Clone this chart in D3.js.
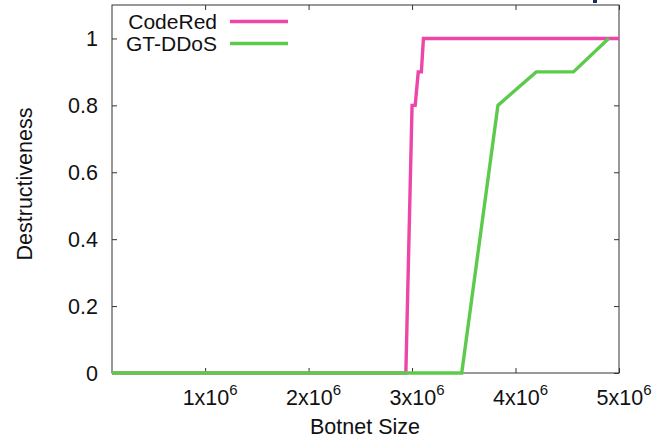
<!DOCTYPE html>
<html>
<head>
<meta charset="utf-8">
<script src="https://cdn.jsdelivr.net/npm/d3@7"></script>
<style>
  body { margin: 0; background: #fff; }
  svg { display: block; }
  text { font-family: "Liberation Sans", Arial, Helvetica, sans-serif; fill: #111; }
</style>
</head>
<body>
<svg id="chart"></svg>
<script>
// botnet sizes and destructiveness
var codeRedSize = [1e5, 2.94e6, 3.0e6, 3.03e6, 3.06e6, 3.09e6, 3.11e6, 5e6]
var codeRedVal = [0, 0, 0.8, 0.8, 0.9, 0.9, 1, 1]
var gtSize = [1e5, 3.48e6, 3.83e6, 4.2e6, 4.56e6, 4.9e6]
var gtVal = [0, 0, 0.8, 0.9, 0.9, 1]

var seriesNames = ["CodeRed", "GT-DDoS"]
var seriesColors = ["#ee46a6", "#5ccb4c"]
var xTicks = [1e6, 2e6, 3e6, 4e6, 5e6]
var yTicks = [0, 0.2, 0.4, 0.6, 0.8, 1]

var screen = { width: 655, height: 442 }
var margins = { left: 112, right: 36, top: 5, bottom: 69 }
var graph = {
    width: screen.width - margins.left - margins.right,
    height: screen.height - margins.top - margins.bottom
}

var svg = d3.select("#chart")
    .attr("width", screen.width)
    .attr("height", screen.height)

var xScale = d3.scaleLinear()
    .domain([1e5, 5e6])
    .range([0, graph.width])

var yScale = d3.scaleLinear()
    .domain([0, 1.1])
    .range([graph.height, 0])

var zip = function (xs, ys) {
    return xs.map(function (x, i) { return { x: x, y: ys[i] } })
}
var series = [zip(codeRedSize, codeRedVal), zip(gtSize, gtVal)]

var target = svg.append("g")
    .attr("transform", "translate(" + margins.left + "," + margins.top + ")")

// axes: inward ticks, mirrored on top and right
var tickLen = 5
var xAxis = d3.axisBottom(xScale).tickValues(xTicks).tickSize(-tickLen).tickFormat("")
var xAxisTop = d3.axisTop(xScale).tickValues(xTicks).tickSize(-tickLen).tickFormat("")
var yAxis = d3.axisLeft(yScale).tickValues(yTicks).tickSize(-tickLen).tickFormat("")
var yAxisRight = d3.axisRight(yScale).tickValues(yTicks).tickSize(-tickLen).tickFormat("")

target.append("g").attr("transform", "translate(0," + graph.height + ")").call(xAxis)
target.append("g").call(xAxisTop)
target.append("g").call(yAxis)
target.append("g").attr("transform", "translate(" + graph.width + ",0)").call(yAxisRight)
target.selectAll(".domain").remove()
target.selectAll(".tick line").attr("stroke", "#333")

target.append("rect")
    .attr("x", 0).attr("y", 0)
    .attr("width", graph.width).attr("height", graph.height)
    .attr("fill", "none")
    .attr("stroke", "#333")
    .attr("stroke-width", 1)

// tick labels
target.selectAll(".ylab")
    .data(yTicks)
    .enter()
    .append("text")
    .attr("x", -14)
    .attr("y", function (d) { return yScale(d) })
    .attr("dy", "0.36em")
    .attr("text-anchor", "end")
    .attr("font-size", 21.5)
    .text(function (d) { return d })

var xl = target.selectAll(".xlab")
    .data(xTicks)
    .enter()
    .append("text")
    .attr("x", function (d) { return xScale(d) + 5 })
    .attr("y", graph.height + 32)
    .attr("text-anchor", "middle")
    .attr("font-size", 21.5)
xl.append("tspan").text(function (d) { return (d / 1e6) + "x10" })
xl.append("tspan").attr("dy", -10).attr("font-size", 15).text("6")

// data lines
var lineGenerator = d3.line()
    .x(function (p) { return xScale(p.x) })
    .y(function (p) { return yScale(p.y) })

target.selectAll(".series")
    .data(series)
    .enter()
    .append("path")
    .attr("d", lineGenerator)
    .attr("fill", "none")
    .attr("stroke", function (d, i) { return seriesColors[i] })
    .attr("stroke-width", 3.4)
    .attr("stroke-linejoin", "miter")

// legend
var legend = svg.append("g")
var entries = legend.selectAll("g")
    .data(seriesNames)
    .enter()
    .append("g")
    .attr("transform", function (d, i) { return "translate(0," + (21.5 + i * 22) + ")" })
entries.append("text")
    .attr("x", 217)
    .attr("dy", "0.36em")
    .attr("text-anchor", "end")
    .attr("font-size", 21)
    .text(function (d) { return d })
entries.append("line")
    .attr("x1", 230).attr("x2", 288)
    .attr("stroke", function (d, i) { return seriesColors[i] })
    .attr("stroke-width", 3.4)

// axis titles
svg.append("text")
    .attr("x", 365)
    .attr("y", 434)
    .attr("text-anchor", "middle")
    .attr("font-size", 21.5)
    .text("Botnet Size")

svg.append("text")
    .attr("transform", "translate(32,184) rotate(-90)")
    .attr("text-anchor", "middle")
    .attr("font-size", 21.5)
    .text("Destructiveness")

// cropped mark at the top edge of the original figure
svg.append("rect")
    .attr("x", 593).attr("y", 0)
    .attr("width", 4).attr("height", 3)
    .attr("fill", "#1c2b5c")
</script>
</body>
</html>
